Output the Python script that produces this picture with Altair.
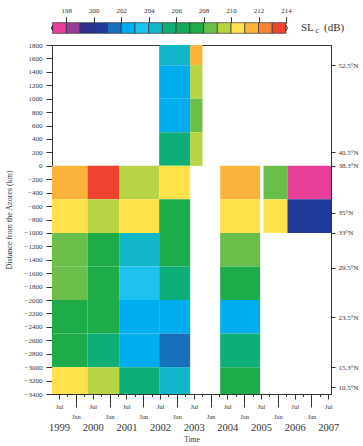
import altair as alt
import pandas as pd

FONT = "Liberation Serif"
INK = "#333333"

# ---- colour scale: SL_c (dB), 1 dB bins from 197 to 214 ----
sl_thresholds = [198, 199, 200, 201, 202, 203, 204, 205, 206, 207, 208, 209, 210, 211, 212, 213]
sl_colors = ["#e8409a", "#963c9a", "#2e3192", "#1f3a9a", "#1670bb", "#00aeef", "#1ec2ef",
             "#12b6c9", "#0eaf76", "#17a85a", "#1eab4a", "#6abf4a", "#b6d444", "#ffe24b",
             "#fbb33c", "#f68536", "#ef4530"]
cb_lo = list(range(197, 214))
cb_ticks = [198, 200, 202, 204, 206, 208, 210, 212, 214]

# ---- time periods (decimal years) ----
t_start = [1999.29, 2000.345, 2001.286, 2002.474, 2003.395, 2004.287, 2005.573, 2006.286]
t_end = [2000.345, 2001.286, 2002.474, 2003.395, 2003.761, 2005.475, 2006.286, 2007.58]

# ---- distance bins (km from the Azores) ----
row_top = [1800, 1500, 1000, 500, 0, -500, -1000, -1500, -2000, -2500, -3000]
row_bot = [1500, 1000, 500, 0, -500, -1000, -1500, -2000, -2500, -3000, -3400]

N = None
sl_values = [
    [N, N, N, N, 211.5, 210.5, 208.5, 208.5, 207.5, 207.5, 210.5],
    [N, N, N, N, 213.5, 209.5, 207.5, 207.5, 207.5, 205.5, 209.5],
    [N, N, N, N, 209.5, 210.5, 204.5, 203.5, 202.5, 202.5, 205.5],
    [204.5, 202.5, 202.5, 205.5, 210.5, 207.5, 207.5, 205.5, 202.5, 201.5, 204.5],
    [211.5, 209.5, 208.5, 209.5, N, N, N, N, N, N, N],
    [N, N, N, N, 211.5, 210.5, 208.5, 207.5, 202.5, 205.5, 207.5],
    [N, N, N, N, 208.5, 210.5, N, N, N, N, N],
    [N, N, N, N, 197.5, 200.5, N, N, N, N, N],
]

# ---- right-hand latitude axis ----
lat_km = [1500, 200, 0, -700, -1000, -1520, -2260, -3000, -3300]
lat_labels = ["52.5°N", "40.5°N", "38.3°N", "35°N", "33°N", "29.5°N", "23.5°N", "15.3°N", "10.5°N"]

# ---- time axis ----
years = [1999, 2000, 2001, 2002, 2003, 2004, 2005, 2006, 2007]
y_ticks = list(range(-3400, 1801, 200))

X_DOMAIN = [1999.29, 2007.58]
Y_DOMAIN = [-3400, 1800]
W, H = 279, 349

cells = []
for i in range(len(t_start)):
    for j in range(len(row_top)):
        v = sl_values[i][j]
        if v is None:
            continue
        cells.append(dict(t0=t_start[i], t1=t_end[i], top=row_top[j], bot=row_bot[j], sl=v))
cells = pd.DataFrame(cells)

color_scale = alt.Scale(type="threshold", domain=sl_thresholds, range=sl_colors)

quarter_ticks = [y + q / 4 for y in range(1999, 2008) for q in range(4)]
quarter_ticks = [t for t in quarter_ticks if X_DOMAIN[0] <= t <= X_DOMAIN[1]]
JAN = "round(datum.value*4) % 4 == 0"
JUL = "round(datum.value*4) % 4 == 2"

rects = alt.Chart(cells).mark_rect(strokeWidth=0).encode(
    x=alt.X("t0:Q", scale=alt.Scale(domain=X_DOMAIN, nice=False, zero=False),
            axis=alt.Axis(orient="bottom", values=quarter_ticks, grid=False, title=None,
                          labelExpr=f"{JUL} ? 'Jul' : ({JAN} ? 'Jan' : '')",
                          tickSize={"condition": [{"test": JAN, "value": 13}, {"test": JUL, "value": 5}], "value": 2.5},
                          labelPadding={"condition": {"test": JAN, "value": 6}, "value": 4},
                          labelFontSize=6.5, labelOverlap=False, labelFlush=False,
                          domainColor=INK, tickColor=INK, labelColor=INK, labelFont=FONT)),
    x2="t1:Q",
    y=alt.Y("top:Q", scale=alt.Scale(domain=Y_DOMAIN, nice=False, zero=False),
            axis=alt.Axis(orient="left", values=y_ticks, grid=False, format="d",
                          title="Distance from the Azores (km)", titleFontSize=8,
                          titleFontWeight="normal", titleFont=FONT, titleColor=INK, titlePadding=11,
                          tickSize=6, labelPadding=4, labelFontSize=7, labelFont=FONT,
                          labelColor=INK, domainColor=INK, tickColor=INK, labelOverlap=False)),
    y2="bot:Q",
    color=alt.Color("sl:Q", scale=color_scale, legend=None),
)

lat_df = pd.DataFrame({"km": lat_km, "lab": lat_labels})
lat_expr = "''"
for k, lab in zip(reversed(lat_km), reversed(lat_labels)):
    lat_expr = f"datum.value == {k} ? '{lab}' : ({lat_expr})"
lat_axis = alt.Chart(lat_df).mark_point(opacity=0).encode(
    y=alt.Y("km:Q", scale=alt.Scale(domain=Y_DOMAIN, nice=False, zero=False),
            axis=alt.Axis(orient="right", values=lat_km, labelExpr=lat_expr, grid=False, title=None,
                          tickSize=4, labelPadding=3, labelFontSize=7, labelFont=FONT,
                          labelColor=INK, domainColor=INK, tickColor=INK, labelOverlap=False)),
)

year_df = pd.DataFrame({"mid": [y + 0.5 for y in years], "year": years})
year_axis = alt.Chart(year_df).mark_point(opacity=0).encode(
    x=alt.X("mid:Q", scale=alt.Scale(domain=X_DOMAIN, nice=False, zero=False),
            axis=alt.Axis(orient="bottom", values=[y + 0.5 for y in years], ticks=False, domain=False,
                          grid=False, labelExpr="floor(datum.value)", labelPadding=28,
                          labelFontSize=10.5, labelFont=FONT, labelColor=INK, labelOverlap=False,
                          labelFlush=False, title="Time", titleFontSize=7.5, titleFont=FONT,
                          titleFontWeight="normal", titleColor=INK, titlePadding=3)),
)

# ---- colour bar (drawn above the plot, own x scale) ----
CB_TOP, CB_BOT = -22.3, -11.7
CB_MID = (CB_TOP + CB_BOT) / 2
CB_DOMAIN = [196.956, 217.28]
cb_df = pd.DataFrame({"lo": cb_lo, "hi": [v + 1 for v in cb_lo], "mid": [v + 0.5 for v in cb_lo]})
cb_rect = alt.Chart(cb_df).mark_rect(stroke=INK, strokeWidth=0.7).encode(
    x=alt.X("lo:Q", scale=alt.Scale(domain=CB_DOMAIN, nice=False, zero=False),
            axis=alt.Axis(orient="top", values=cb_ticks, grid=False, domain=False, title=None,
                          offset=-CB_TOP, tickSize=6, labelPadding=3, labelFontSize=7,
                          labelFont=FONT, labelColor=INK, tickColor=INK, labelFlush=False,
                          labelOverlap=False)),
    x2="hi:Q",
    y=alt.value(CB_TOP), y2=alt.value(CB_BOT),
    color=alt.Color("mid:Q", scale=color_scale, legend=None),
)
ends = pd.DataFrame({"v": [cb_lo[0], cb_lo[-1] + 1], "side": ["left", "right"]})
tri_left = alt.Chart(ends[ends.side == "left"]).mark_point(
    shape="M0,-1L-0.57,0L0,1Z", filled=True, fill="#222222", stroke="#222222", strokeWidth=0.5,
    size=28, opacity=1).encode(
    x=alt.X("v:Q", scale=alt.Scale(domain=CB_DOMAIN, nice=False, zero=False), axis=None),
    y=alt.value(CB_MID))
tri_right = alt.Chart(ends[ends.side == "right"]).mark_point(
    shape="M0,-1L0.62,0L0,1Z", filled=True, fill="white", stroke="#222222", strokeWidth=0.8,
    size=28, opacity=1).encode(
    x=alt.X("v:Q", scale=alt.Scale(domain=CB_DOMAIN, nice=False, zero=False), axis=None),
    y=alt.value(CB_MID))

t_sl = alt.Chart(pd.DataFrame({"t": ["SL"]})).mark_text(
    align="left", baseline="middle", font=FONT, fontSize=11, color=INK
).encode(text="t:N", x=alt.value(249), y=alt.value(CB_MID))
t_c = alt.Chart(pd.DataFrame({"t": ["c"]})).mark_text(
    align="left", baseline="middle", font=FONT, fontSize=8, color=INK
).encode(text="t:N", x=alt.value(263.5), y=alt.value(CB_MID + 3))
t_db = alt.Chart(pd.DataFrame({"t": ["(dB)"]})).mark_text(
    align="left", baseline="middle", font=FONT, fontSize=11, color=INK
).encode(text="t:N", x=alt.value(272), y=alt.value(CB_MID))

chart = alt.layer(rects, lat_axis, year_axis, cb_rect, tri_left, tri_right, t_sl, t_c, t_db).resolve_scale(
    x="independent", y="independent"
).properties(
    width=W, height=H,
    view=alt.ViewBackground(stroke=INK, strokeWidth=1),
    padding={"left": 5, "top": 6, "right": 0, "bottom": 0},
).configure(font=FONT)

chart.save("out.html", embed_options={"renderer": "svg", "actions": False})
